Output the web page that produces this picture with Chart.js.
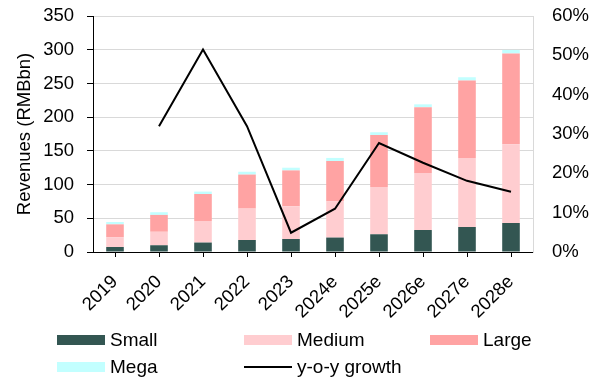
<!DOCTYPE html>
<html>
<head>
<meta charset="utf-8">
<script src="https://cdn.jsdelivr.net/npm/chart.js@4"></script>
<style>
  body { margin: 0; background: #fff; }
  #wrap { position: relative; width: 593px; height: 379px; }
  #legend { position: absolute; left: 0; top: 0; width: 593px; height: 379px; pointer-events: none;
            font-family: "Liberation Sans", Arial, sans-serif; font-size: 19px; color: #000; }
  .item { position: absolute; display: flex; align-items: center; height: 22px; white-space: nowrap; }
  .swatch { width: 48px; margin-right: 5px; }
</style>
</head>
<body>
<div id="wrap">
  <canvas id="myChart"></canvas>
  <div id="legend"></div>
</div>
<script>
var years = ["2019", "2020", "2021", "2022", "2023", "2024e", "2025e", "2026e", "2027e", "2028e"];

// revenues by segment, RMBbn
var small  = [7.4, 10, 14, 17.8, 19.3, 21.4, 26.3, 32.6, 37.1, 43];
var medium = [14.6, 20, 32, 46.6, 48.5, 53.6, 70.1, 84.6, 102.4, 116.8];
var large  = [19, 25, 40, 50.4, 53.2, 60, 77.2, 97.5, 114.8, 134.6];
var mega   = [3.5, 4, 3.6, 4.2, 4, 4.5, 4, 4.3, 4.9, 5.3];

// total growth, %
var growth = [null, 32.0, 51.5, 32.0, 4.9, 11.0, 27.7, 22.7, 18.1, 15.3];

var revTicks = [0, 50, 100, 150, 200, 250, 300, 350];
var pctTicks = [0, 10, 20, 30, 40, 50, 60];

var FONT = { family: '"Liberation Sans", Arial, sans-serif', size: 18.5 };

function bar(label, values, color) {
    return {
        type: 'bar',
        label: label,
        data: values,
        backgroundColor: color,
        borderWidth: 0,
        barPercentage: 0.8,
        categoryPercentage: 0.5,
        yAxisID: 'y',
        order: 1
    };
}

// fixed axis widths; drop the label overhang so the plot top stays put
function fixWidth(w) {
    return function (s) {
        s.width = w;
        s.paddingTop = 0;
        s.paddingBottom = 0;
    };
}

var data = {
    labels: years,
    datasets: [
        bar("Small", small, "#335652"),
        bar("Medium", medium, "#ffcdd0"),
        bar("Large", large, "#ffa3a3"),
        bar("Mega", mega, "#c2ffff"),
        {
            type: 'line',
            label: "y-o-y growth",
            data: growth,
            borderColor: "#000",
            borderWidth: 2,
            pointRadius: 0,
            tension: 0,
            fill: false,
            yAxisID: 'y1',
            order: 0
        }
    ]
};

var config = {
    type: 'bar',
    data: data,
    options: {
        responsive: true,
        maintainAspectRatio: false,
        animation: false,
        layout: { padding: { top: 16, left: 0, right: 0, bottom: 0 } },
        plugins: {
            legend: { display: false },
            tooltip: { enabled: false }
        },
        scales: {
            x: {
                stacked: true,
                afterFit: function (s) { s.height = 127; },
                grid: { offset: false, drawOnChartArea: false, tickColor: "#000", tickLength: 5 },
                border: { color: "#000", width: 1 },
                ticks: { font: FONT, color: "#000", minRotation: 45, maxRotation: 45, padding: 14 }
            },
            y: {
                stacked: true,
                position: 'left',
                min: 0,
                max: 350,
                afterFit: fixWidth(93),
                afterBuildTicks: function (s) { s.ticks = revTicks.map(function (v) { return { value: v }; }); },
                grid: { color: "#d9d9d9", tickColor: "#000", tickLength: 6 },
                border: { color: "#000", width: 1 },
                ticks: { font: FONT, color: "#000", padding: 13 },
                title: {
                    display: true,
                    text: "Revenues (RMBbn)",
                    font: FONT,
                    color: "#000",
                    padding: { top: 14, bottom: 0 }
                }
            },
            y1: {
                position: 'right',
                min: 0,
                max: 60,
                afterFit: fixWidth(60),
                afterBuildTicks: function (s) { s.ticks = pctTicks.map(function (v) { return { value: v }; }); },
                grid: { drawOnChartArea: false, drawTicks: false },
                border: { color: "#d9d9d9", width: 1 },
                ticks: {
                    font: FONT,
                    color: "#000",
                    padding: 19,
                    callback: function (v) { return v + "%"; }
                }
            }
        }
    }
};

var ctx = document.getElementById("myChart").getContext("2d");
var myChart = new Chart(ctx, config);

// legend laid out in three columns, two rows
var cols = [57, 244, 430];
var rows = [340, 367];
var legend = document.getElementById("legend");
myChart.data.datasets.forEach(function (ds, i) {
    var item = document.createElement("div");
    item.className = "item";
    item.style.left = cols[i % 3] + "px";
    item.style.top = (rows[Math.floor(i / 3)] - 11) + "px";
    var sw = document.createElement("span");
    sw.className = "swatch";
    if (ds.type === 'line') {
        sw.style.height = "2px";
        sw.style.background = ds.borderColor;
    } else {
        sw.style.height = "10px";
        sw.style.background = ds.backgroundColor;
    }
    var txt = document.createElement("span");
    txt.textContent = ds.label;
    item.appendChild(sw);
    item.appendChild(txt);
    legend.appendChild(item);
});
</script>
</body>
</html>
